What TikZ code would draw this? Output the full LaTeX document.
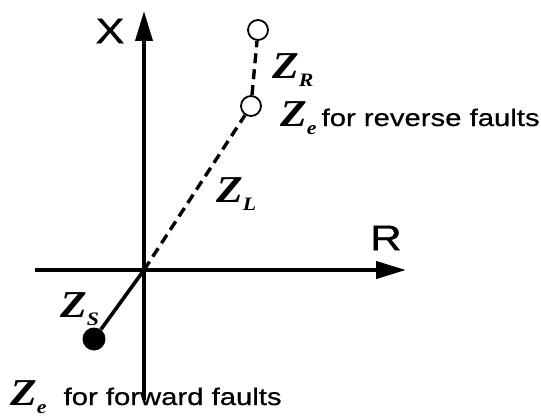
\documentclass[tikz,border=0pt]{standalone}
\usepackage{fontspec}
\setmainfont[FakeStretch=1.22,FakeBold=0.6]{Liberation Sans}
\newfontface\zface[FakeStretch=1.15]{Liberation Serif Bold Italic}
\usetikzlibrary{arrows.meta}
\newcommand{\zlab}[1]{{\zface\fontsize{38}{38}\selectfont Z}\raisebox{-8pt}{\zface\fontsize{19}{19}\selectfont #1}}
\tikzset{
  axis/.style={line width=4pt, -{Triangle[length=30pt,width=17pt]}},
  zline/.style={line width=3.6pt},
  dline/.style={line width=3.4pt, dash pattern=on 10pt off 6pt},
  opencirc/.style={circle, draw, line width=1.8pt, fill=white, minimum size=20pt, inner sep=0pt},
  dotcirc/.style={circle, fill=black, minimum size=23pt, inner sep=0pt},
  lab/.style={inner sep=0pt, anchor=base west},
  axlab/.style={inner sep=0pt, font=\fontsize{36}{36}\selectfont}
}
\begin{document}
\begin{tikzpicture}[x=1pt,y=-1pt]
\useasboundingbox (0,0) rectangle (541,420);
\coordinate (o) at (144,270);
\coordinate (xb) at (144,400);
\coordinate (xt) at (144,11);
\coordinate (rl) at (35,270);
\coordinate (rr) at (406,270);
\draw[axis] (xb) -- (xt);
\draw[axis] (rl) -- (rr);
\node[axlab] (xl) at (110,31) {X};
\node[axlab] (rlab) at (386,238) {R};
\node[opencirc] (c1) at (251,106) {};
\node[opencirc] (c2) at (258,30) {};
\node[dotcirc] (d) at (94,339) {};
\draw[dline] (o) -- (c1);
\draw[dline] (c1) -- (c2);
\draw[zline] (o) -- (d);
\node[lab] (zr) at (272,79) {\zlab{R}};
\node[lab] (zl) at (216,202) {\zlab{L}};
\node[lab] (zs) at (60,317) {\zlab{S}};
\node[lab] (ze1) at (280,126) {\zlab{e}\hspace{5pt}{\fontsize{24}{24}\selectfont for reverse faults}};
\node[lab] (ze2) at (10,405) {\zlab{e}\hspace{17pt}{\fontsize{24}{24}\selectfont for forward faults}};
\end{tikzpicture}
\end{document}
